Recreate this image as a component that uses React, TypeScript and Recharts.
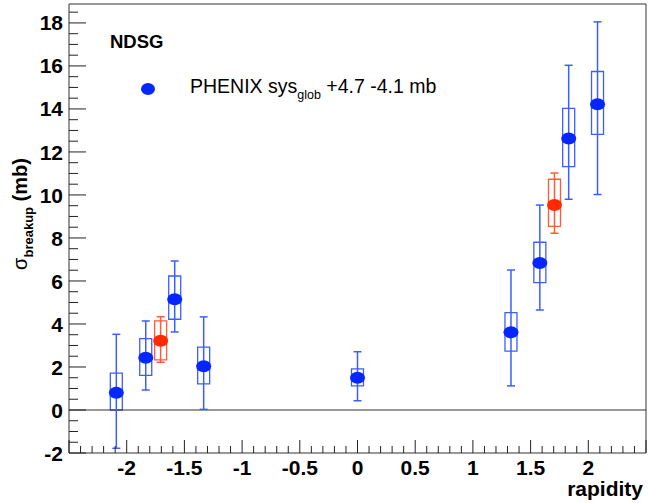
import React from 'react';
import {
  ScatterChart,
  Scatter,
  XAxis,
  YAxis,
  ErrorBar,
  ReferenceArea,
  ReferenceLine,
} from 'recharts';

// ---- Data ----
const blueRapidity = [-2.09, -1.835, -1.584, -1.333, 0, 1.33, 1.58, 1.83, 2.08];
const blueSigma = [0.8, 2.43, 5.15, 2.03, 1.5, 3.61, 6.84, 12.62, 14.22];
const blueStatLow = [-1.78, 0.93, 3.63, 0.03, 0.43, 1.12, 4.65, 9.8, 10.02];
const blueStatHigh = [3.52, 4.14, 6.93, 4.33, 2.71, 6.51, 9.53, 16.03, 18.05];
const blueSysLow = [0.0, 1.61, 4.22, 1.21, 1.12, 2.74, 5.92, 11.32, 12.82];
const blueSysHigh = [1.71, 3.32, 6.23, 2.92, 1.91, 4.53, 7.8, 14.03, 15.74];

const redRapidity = [-1.706, 1.707];
const redSigma = [3.22, 9.53];
const redStatLow = [2.22, 8.22];
const redStatHigh = [4.34, 11.02];
const redSysLow = [2.33, 8.54];
const redSysHigh = [4.14, 10.73];

const xLabelTicks = [-2, -1.5, -1, -0.5, 0, 0.5, 1, 1.5, 2];
const yLabelTicks = [-2, 0, 2, 4, 6, 8, 10, 12, 14, 16, 18];

const X_MIN = -2.5;
const X_MAX = 2.5;
const Y_MIN = -2;
const Y_MAX = 18.88;

// tick grids (ROOT-style: primary and secondary divisions)
const xAllTicks: number[] = [];
for (let i = -25; i <= 25; i++) xAllTicks.push(i / 10);
const yAllTicks: number[] = [];
for (let i = -4; i <= 37; i++) yAllTicks.push(i / 2);

const isXMajor = (v: number) => Math.abs(v * 2 - Math.round(v * 2)) < 1e-6;
const isYMajor = (v: number) => Math.abs(v / 2 - Math.round(v / 2)) < 1e-6;
const fmt = (v: number) => {
  const r = Math.round(v * 10) / 10;
  return String(r);
};

const build = (
  xs: number[],
  ys: number[],
  lo: number[],
  hi: number[],
  sLo: number[],
  sHi: number[]
) =>
  xs.map((x, i) => ({
    x,
    y: ys[i],
    err: [ys[i] - lo[i], hi[i] - ys[i]],
    sysLo: sLo[i],
    sysHi: sHi[i],
  }));

const blueData = build(blueRapidity, blueSigma, blueStatLow, blueStatHigh, blueSysLow, blueSysHigh);
const redData = build(redRapidity, redSigma, redStatLow, redStatHigh, redSysLow, redSysHigh);

const BLUE = '#0626ff';
const BLUE_LINE = '#3d5eff';
const RED = '#ff2a00';
const RED_LINE = '#ff5a3a';
const FONT = '"Liberation Sans", Arial, Helvetica, sans-serif';
const BOX_HALF = 0.052;

const XTick = (props: any) => {
  const { x, y, payload } = props;
  const v = payload.value as number;
  const major = isXMajor(v);
  const len = major ? 13 : 7;
  const showLabel = xLabelTicks.some((t) => Math.abs(t - v) < 1e-6);
  return (
    <g>
      <line x1={x} x2={x} y1={y} y2={y - len} stroke="#222" strokeWidth={1} />
      {showLabel && (
        <text
          x={x}
          y={y + 22}
          textAnchor="middle"
          fontFamily={FONT}
          fontWeight="bold"
          fontSize={21}
          fill="#000"
        >
          {fmt(v)}
        </text>
      )}
    </g>
  );
};

const YTick = (props: any) => {
  const { x, y, payload } = props;
  const v = payload.value as number;
  const major = isYMajor(v);
  const len = major ? 17 : 9;
  const showLabel = yLabelTicks.some((t) => Math.abs(t - v) < 1e-6);
  return (
    <g>
      <line x1={x} x2={x + len} y1={y} y2={y} stroke="#222" strokeWidth={1} />
      {showLabel && (
        <text
          x={x - 6}
          y={y}
          dy="0.36em"
          textAnchor="end"
          fontFamily={FONT}
          fontWeight="bold"
          fontSize={21}
          fill="#000"
        >
          {fmt(v)}
        </text>
      )}
    </g>
  );
};

const makeMarker = (color: string) => (props: any) => {
  const { cx, cy } = props;
  if (cx == null || cy == null) return <g />;
  return <ellipse cx={cx} cy={cy} rx={7.5} ry={6} fill={color} />;
};

export default function App() {
  return (
    <div style={{ position: 'absolute', left: 0, top: 0, width: 649, height: 503, background: '#fff' }}>
      <ScatterChart
        width={649}
        height={503}
        margin={{ top: 4, right: 3, bottom: 0, left: 0 }}
      >
        <XAxis
          type="number"
          dataKey="x"
          domain={[X_MIN, X_MAX]}
          ticks={xAllTicks}
          interval={0}
          allowDataOverflow
          axisLine={false}
          tickLine={false}
          tickSize={0}
          tickMargin={0}
          height={50}
          tick={<XTick />}
        />
        <YAxis
          type="number"
          dataKey="y"
          domain={[Y_MIN, Y_MAX]}
          ticks={yAllTicks}
          interval={0}
          allowDataOverflow
          axisLine={false}
          tickLine={false}
          tickSize={0}
          tickMargin={0}
          width={69}
          tick={<YTick />}
        />
        <ReferenceArea
          x1={X_MIN}
          x2={X_MAX}
          y1={Y_MIN}
          y2={Y_MAX}
          fill="none"
          fillOpacity={0}
          stroke="#333"
          strokeWidth={1}
          ifOverflow="visible"
        />
        <ReferenceLine y={0} stroke="#333" strokeWidth={1} />
        {blueData.map((d, i) => (
          <ReferenceArea
            key={'bs' + i}
            x1={d.x - BOX_HALF}
            x2={d.x + BOX_HALF}
            y1={d.sysLo}
            y2={d.sysHi}
            fill="none"
            fillOpacity={0}
            stroke={BLUE_LINE}
            strokeWidth={1.3}
          />
        ))}
        {redData.map((d, i) => (
          <ReferenceArea
            key={'rs' + i}
            x1={d.x - BOX_HALF}
            x2={d.x + BOX_HALF}
            y1={d.sysLo}
            y2={d.sysHi}
            fill="none"
            fillOpacity={0}
            stroke={RED_LINE}
            strokeWidth={1.3}
          />
        ))}
        <Scatter
          name="PHENIX"
          data={blueData}
          fill={BLUE}
          shape={makeMarker(BLUE)}
          isAnimationActive={false}
        >
          <ErrorBar
            dataKey="err"
            direction="y"
            width={4}
            stroke={BLUE_LINE}
            strokeWidth={1.5}
            isAnimationActive={false}
          />
        </Scatter>
        <Scatter
          name="PHENIX red"
          data={redData}
          fill={RED}
          shape={makeMarker(RED)}
          isAnimationActive={false}
        >
          <ErrorBar
            dataKey="err"
            direction="y"
            width={4}
            stroke={RED_LINE}
            strokeWidth={1.5}
            isAnimationActive={false}
          />
        </Scatter>
      </ScatterChart>
      <svg
        width={649}
        height={503}
        style={{ position: 'absolute', left: 0, top: 0, pointerEvents: 'none' }}
      >
        <text x={110} y={48} fontFamily={FONT} fontWeight="bold" fontSize={18.5} fill="#000">
          NDSG
        </text>
        <ellipse cx={148} cy={89} rx={7} ry={6} fill={BLUE} />
        <text x={190} y={93} fontFamily={FONT} fontSize={19.5} fill="#000">
          PHENIX sys
          <tspan fontSize={12.5} dy={6}>glob</tspan>
          <tspan dy={-6}> +4.7 -4.1 mb</tspan>
        </text>
        <text x={643} y={496} textAnchor="end" fontFamily={FONT} fontWeight="bold" fontSize={21} fill="#000">
          rapidity
        </text>
        <text
          transform="translate(27,214) rotate(-90)"
          textAnchor="middle"
          fontFamily={FONT}
          fill="#000"
        >
          <tspan fontSize={20}>σ</tspan>
          <tspan fontSize={13} fontWeight="bold" dy={6}>breakup</tspan>
          <tspan fontSize={20} fontWeight="bold" dy={-6}> (mb)</tspan>
        </text>
      </svg>
    </div>
  );
}
